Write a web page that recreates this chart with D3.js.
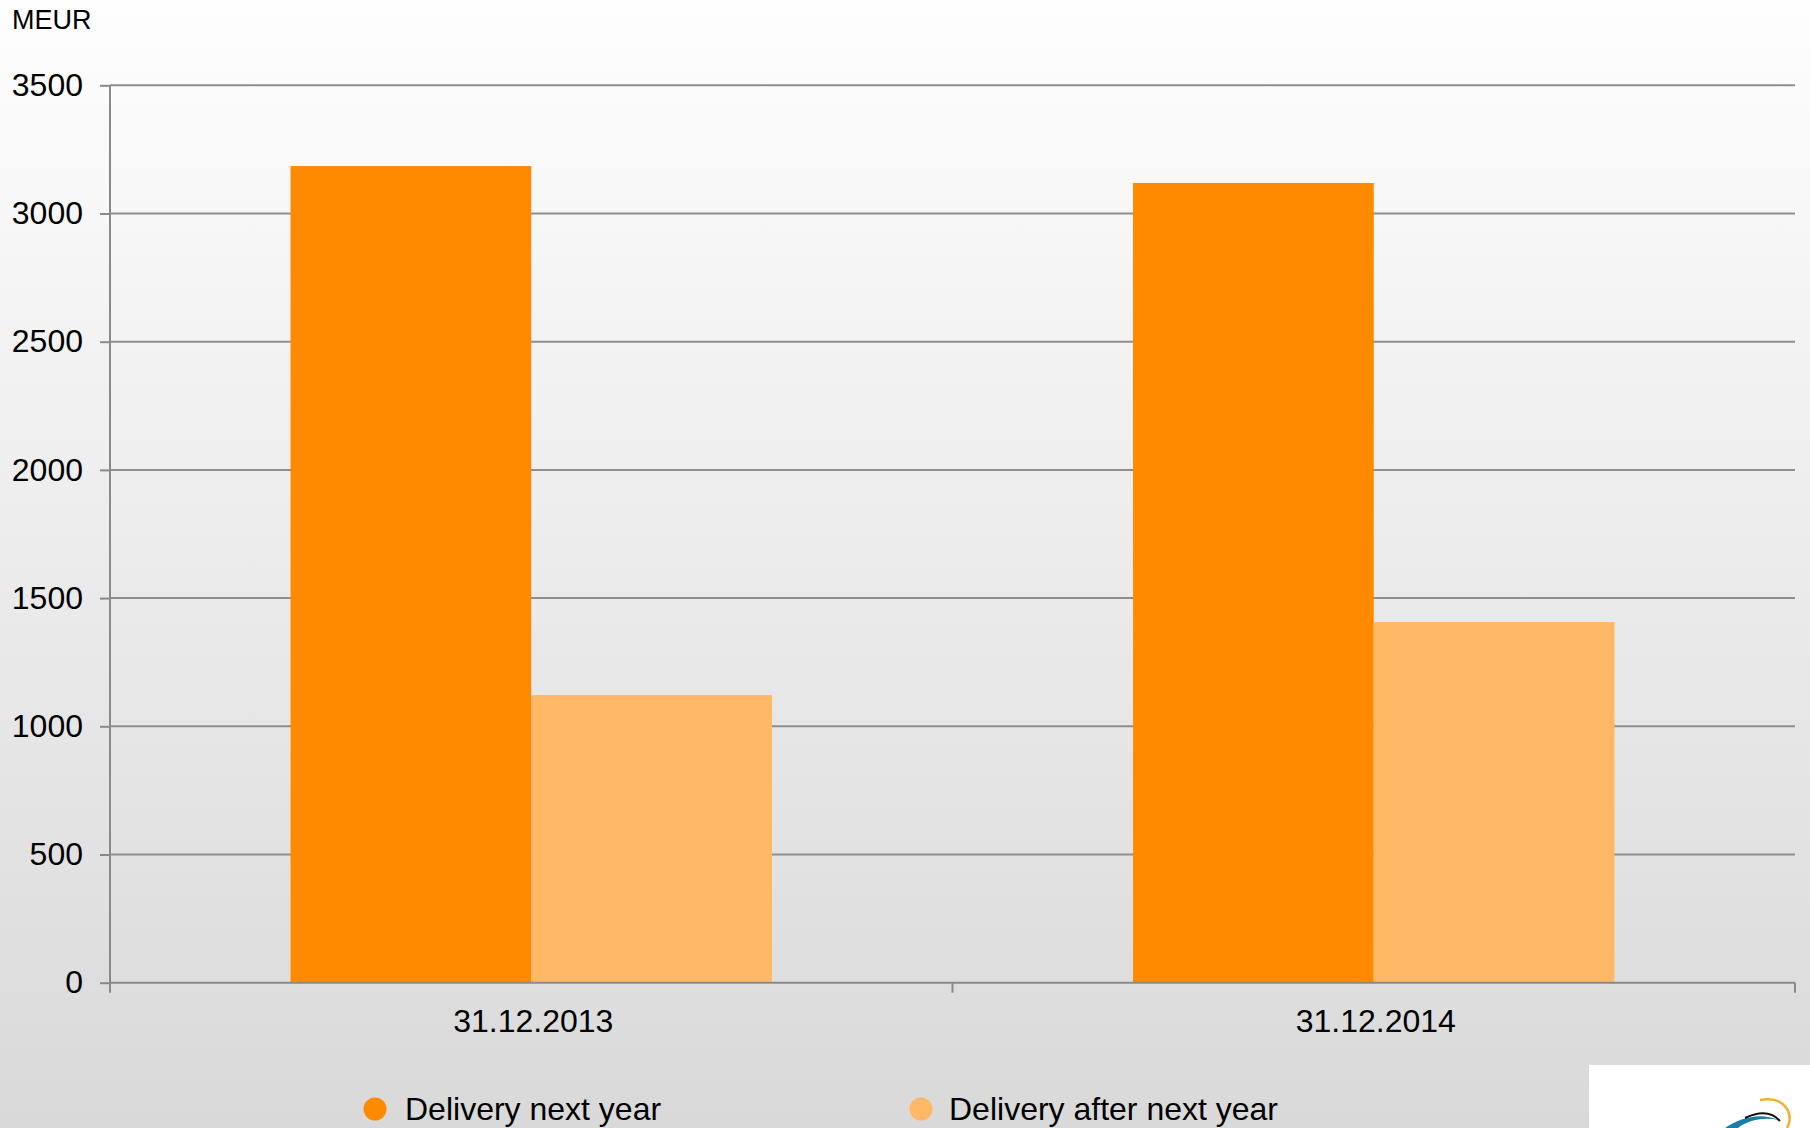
<!DOCTYPE html>
<html>
<head>
<meta charset="utf-8">
<script src="https://cdn.jsdelivr.net/npm/d3@7"></script>
<style>
  html, body { margin: 0; padding: 0; overflow: hidden; }
  body { width: 1810px; height: 1128px; }
  text { font-family: "Liberation Sans", Arial, sans-serif; fill: #000; }
</style>
</head>
<body>
<div id="chart"></div>
<script>
(function () {
    "use strict";

    var categories = ["31.12.2013", "31.12.2014"];
    var seriesNames = ["Delivery next year", "Delivery after next year"];
    var nextYear = [3185, 3119];
    var afterNextYear = [1122, 1407];
    var yTicks = [0, 500, 1000, 1500, 2000, 2500, 3000, 3500];
    var colors = ["#ff8a00", "#ffb865"];

    var width = 1810,
        height = 1128;

    var left = 110,
        right = 1795,
        top = 85.3,
        bottom = 982.7;

    var svg = d3.select("#chart").append("svg")
        .attr("width", width)
        .attr("height", height);

    var defs = svg.append("defs");
    var grad = defs.append("linearGradient")
        .attr("id", "bg")
        .attr("x1", 0).attr("y1", 0).attr("x2", 0).attr("y2", 1);
    grad.append("stop").attr("offset", "0%").attr("stop-color", "#fefefe");
    grad.append("stop").attr("offset", "100%").attr("stop-color", "#d9d9d9");

    svg.append("rect")
        .attr("width", width)
        .attr("height", height)
        .attr("fill", "url(#bg)");

    var x0 = d3.scaleBand()
        .domain(categories)
        .range([left, right])
        .padding(0);

    var x1 = d3.scaleBand()
        .domain(seriesNames)
        .range([0, x0.bandwidth()])
        .paddingInner(0)
        .paddingOuter(0.75);

    var y = d3.scaleLinear()
        .domain([0, 3500])
        .range([bottom, top]);

    // gridlines + y axis
    var yAxis = d3.axisLeft(y)
        .tickValues(yTicks)
        .tickSize(10)
        .tickPadding(17)
        .tickFormat(d3.format("d"));

    svg.append("g")
        .attr("class", "grid")
        .selectAll("line")
        .data(yTicks.filter(function (d) { return d > 0; }))
        .enter().append("line")
        .attr("x1", left)
        .attr("x2", right)
        .attr("y1", function (d) { return y(d); })
        .attr("y2", function (d) { return y(d); })
        .attr("stroke", "#8e8e8e")
        .attr("stroke-width", 2);

    // bars
    var data = categories.map(function (c, i) {
        return [
            { cat: c, name: seriesNames[0], value: nextYear[i], color: colors[0] },
            { cat: c, name: seriesNames[1], value: afterNextYear[i], color: colors[1] }
        ];
    });

    var groups = svg.selectAll("g.group")
        .data(data)
        .enter().append("g")
        .attr("class", "group")
        .attr("transform", function (d) { return "translate(" + x0(d[0].cat) + ",0)"; });

    groups.selectAll("rect")
        .data(function (d) { return d; })
        .enter().append("rect")
        .attr("x", function (d) { return x1(d.name); })
        .attr("width", x1.bandwidth())
        .attr("y", function (d) { return y(d.value); })
        .attr("height", function (d) { return y(0) - y(d.value); })
        .attr("fill", function (d) { return d.color; });

    var gy = svg.append("g")
        .attr("transform", "translate(" + left + ",0)")
        .call(yAxis);
    gy.select(".domain")
        .attr("stroke", "#8a8a8a")
        .attr("stroke-width", 2)
        .attr("d", "M0," + top + "V" + bottom);
    gy.selectAll(".tick line").attr("stroke", "#8a8a8a").attr("stroke-width", 2);
    gy.selectAll(".tick text")
        .attr("font-size", 32)
        .attr("font-family", "Liberation Sans, Arial, sans-serif")
        .attr("fill", "#000");

    // x axis
    var gx = svg.append("g")
        .attr("transform", "translate(0," + bottom + ")");
    gx.append("line")
        .attr("x1", left).attr("x2", right)
        .attr("stroke", "#8a8a8a").attr("stroke-width", 2);
    var xTickPos = [left, x0(categories[1]), right];
    gx.selectAll("line.xt")
        .data(xTickPos)
        .enter().append("line")
        .attr("class", "xt")
        .attr("x1", function (d) { return d; })
        .attr("x2", function (d) { return d; })
        .attr("y1", 0).attr("y2", 10)
        .attr("stroke", "#8a8a8a").attr("stroke-width", 2);
    gx.selectAll("text")
        .data(categories)
        .enter().append("text")
        .attr("x", function (d) { return x0(d) + x0.bandwidth() / 2 + 2; })
        .attr("y", 49)
        .attr("text-anchor", "middle")
        .attr("font-size", 32)
        .text(function (d) { return d; });

    // unit label
    svg.append("text")
        .attr("x", 12)
        .attr("y", 29)
        .attr("font-size", 27)
        .text("MEUR");

    // legend
    var legendX = [375, 921];
    var legend = svg.selectAll("g.legend")
        .data(seriesNames)
        .enter().append("g")
        .attr("class", "legend")
        .attr("transform", function (d, i) { return "translate(" + legendX[i] + ",1109)"; });
    legend.append("circle")
        .attr("r", 11.5)
        .attr("fill", function (d, i) { return colors[i]; });
    legend.append("text")
        .attr("x", function (d, i) { return i === 0 ? 30 : 28; })
        .attr("y", 11)
        .attr("font-size", 32)
        .text(function (d) { return d; });

    // logo corner
    var logo = svg.append("g");
    logo.append("rect")
        .attr("x", 1589).attr("y", 1065)
        .attr("width", 221).attr("height", 63)
        .attr("fill", "#ffffff");
    logo.append("path")
        .attr("d", "M1760,1100 C1785,1095 1795,1115 1787,1128")
        .attr("fill", "none")
        .attr("stroke", "#f0b030")
        .attr("stroke-width", 2.5);
    logo.append("path")
        .attr("d", "M1725,1128 C1740,1118 1760,1112 1778,1120 C1765,1117 1748,1120 1738,1128 Z")
        .attr("fill", "#1a7fa8");
    logo.append("path")
        .attr("d", "M1745,1118 C1760,1111 1772,1112 1780,1121")
        .attr("fill", "none")
        .attr("stroke", "#111")
        .attr("stroke-width", 2);
})();
</script>
</body>
</html>
